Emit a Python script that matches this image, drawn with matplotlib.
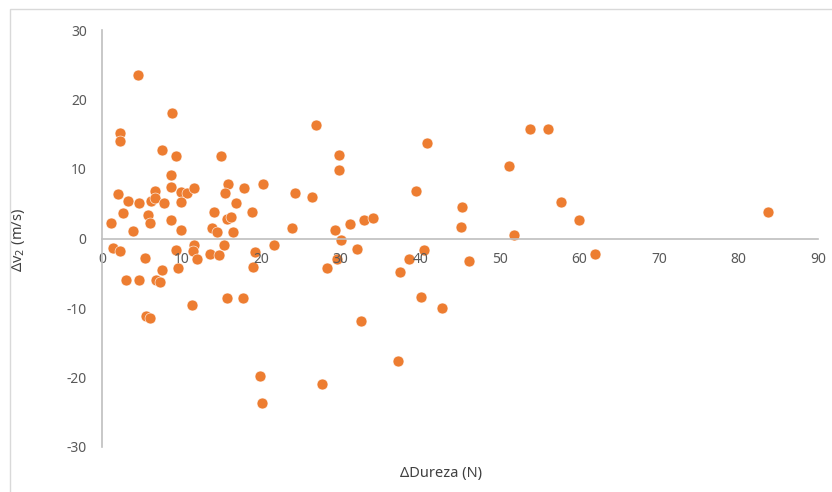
import matplotlib.pyplot as plt
from matplotlib.patches import Rectangle

# Dados
dureza = [4.5, 8.8, 2.2, 2.2, 7.5, 9.3, 15.0, 8.7, 8.7, 6.6,
          15.8, 17.8, 20.3, 15.5, 2.0, 9.9, 10.7, 11.6, 3.3, 4.6,
          6.1, 6.7, 7.8, 9.9, 16.9, 2.6, 5.8, 6.0, 1.1, 3.9,
          8.7, 9.9, 14.1, 18.8, 15.7, 16.2, 13.8, 14.5, 16.5, 1.4,
          2.3, 5.4, 9.3, 11.6, 11.5, 11.9, 13.6, 14.7, 15.3, 19.2,
          19.0, 9.5, 7.5, 3.0, 4.6, 6.8, 7.3, 11.3, 15.7, 17.7,
          5.5, 6.0, 19.8, 20.1, 26.9, 40.9, 29.8, 29.8, 24.2, 26.4,
          39.5, 23.9, 29.3, 31.2, 32.9, 34.1, 30.1, 21.6, 32.0, 40.5,
          38.6, 29.6, 28.3, 37.4, 40.1, 42.8, 32.6, 37.2, 27.6, 53.8,
          56.0, 51.1, 45.2, 57.7, 59.9, 45.1, 51.8, 46.1, 62.0, 83.7]
dv2 = [23.5, 18.1, 15.2, 14.1, 12.8, 11.9, 11.9, 9.1, 7.4, 6.9,
       7.9, 7.3, 7.8, 6.6, 6.4, 6.7, 6.6, 7.2, 5.4, 5.1,
       5.4, 5.8, 5.1, 5.2, 5.1, 3.7, 3.4, 2.3, 2.3, 1.1,
       2.7, 1.2, 3.8, 3.8, 2.8, 3.1, 1.5, 1.0, 1.0, -1.3,
       -1.8, -2.8, -1.7, -0.9, -1.8, -3.0, -2.3, -2.4, -0.9, -1.9,
       -4.1, -4.2, -4.6, -6.0, -6.0, -6.0, -6.3, -9.6, -8.6, -8.5,
       -11.2, -11.5, -19.8, -23.7, 16.4, 13.8, 12.0, 9.9, 6.6, 5.9,
       6.9, 1.5, 1.2, 2.1, 2.6, 2.95, -0.2, -0.9, -1.5, -1.7,
       -3.0, -3.0, -4.3, -4.8, -8.4, -10.0, -11.9, -17.6, -20.9, 15.7,
       15.8, 10.4, 4.5, 5.2, 2.6, 1.6, 0.55, -3.3, -2.3, 3.8]

plt.rcParams['font.family'] = ['Noto Sans', 'DejaVu Sans']
plt.rcParams['axes.unicode_minus'] = False

fig = plt.figure(figsize=(8.32, 4.92), dpi=100)
ax = fig.add_axes([102/832, 1 - 447/492, 716/832, 417/492])

# moldura do gráfico (estilo Excel)
fig.patches.append(Rectangle((10/832, -0.1), 1.0, 1 - 9/492 + 0.1,
                             transform=fig.transFigure, fill=False,
                             edgecolor='#d9d9d9', linewidth=1))

ax.scatter(dureza, dv2, s=62, color='#ED7D31', edgecolors='white',
           linewidths=0.4, zorder=1)

ax.set_xlim(0, 90)
ax.set_ylim(-30, 30)
ax.set_xticks(range(0, 91, 10))
ax.set_yticks(range(-30, 31, 10))

ax.spines['top'].set_visible(False)
ax.spines['right'].set_visible(False)
ax.spines['bottom'].set_position(('data', 0))
for s in ('left', 'bottom'):
    ax.spines[s].set_color('#bfbfbf')
    ax.spines[s].set_linewidth(1.2)

ax.tick_params(axis='both', length=0, labelsize=10, colors='#595959')
ax.tick_params(axis='y', pad=11)
ax.tick_params(axis='x', pad=10)

ax.set_xlabel('ΔDureza (N)', fontsize=10.5, color='#404040')
ax.set_ylabel('Δv$_2$ (m/s)', fontsize=10.5, color='#404040')
ax.xaxis.set_label_coords(0.474, -0.045)
ax.yaxis.set_label_coords(-0.105, 0.496)

fig.savefig('out.png', dpi=100)
